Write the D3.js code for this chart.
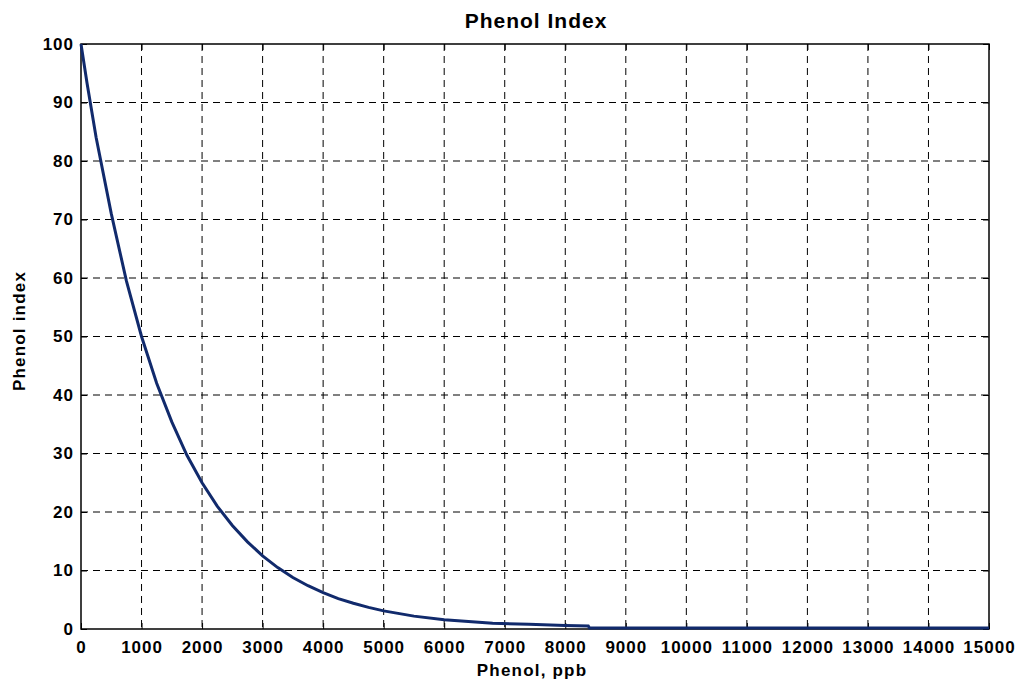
<!DOCTYPE html>
<html><head><meta charset="utf-8">
<script src="https://cdn.jsdelivr.net/npm/d3@7"></script>
<style>body{margin:0;background:#fff;} text{font-family:"Liberation Sans",Arial,sans-serif;font-weight:bold;}</style>
</head><body>
<svg id="c" width="1015" height="682"></svg>
<script>
const phenolPpb = [0,100,250,500,750,1000,1250,1500,1750,2000,2250,2500,2750,3000,3250,3500,3750,4000,4250,4500,4750,5000,5500,6000,6400,6800,7400,8000,8380,8400,9000,10000,11000,12000,13000,14000,15000];
const phenolIndex = [100,93.3,84,71,59.5,50,42,35.4,29.7,25,21,17.7,14.9,12.5,10.5,8.8,7.4,6.2,5.2,4.4,3.7,3.1,2.2,1.6,1.3,1.0,0.8,0.6,0.5,0.15,0.15,0.15,0.15,0.15,0.15,0.15,0.15];
const xTicks = d3.range(0,15001,1000);
const yTicks = d3.range(0,101,10);
const titleText = "Phenol Index", xLabel = "Phenol, ppb", yLabel = "Phenol index";

const svg = d3.select("#c");
const m = {l:81, r:989, t:44, b:629};
const x = d3.scaleLinear().domain([0,15000]).range([m.l,m.r]);
const y = d3.scaleLinear().domain([0,100]).range([m.b,m.t]);

// grid
const g = svg.append("g");
g.selectAll(".vx").data(xTicks.slice(1,-1)).join("line")
  .attr("x1",d=>x(d)).attr("x2",d=>x(d)).attr("y1",m.t).attr("y2",m.b)
  .attr("stroke","#000").attr("stroke-width",1).attr("stroke-dasharray","7,5");
g.selectAll(".hy").data(yTicks.slice(1,-1)).join("line")
  .attr("x1",m.l).attr("x2",m.r).attr("y1",d=>y(d)).attr("y2",d=>y(d))
  .attr("stroke","#000").attr("stroke-width",1).attr("stroke-dasharray","7,5");

// axes
svg.append("g").attr("transform",`translate(0,${m.b})`)
  .call(d3.axisBottom(x).tickValues(xTicks).tickFormat(d3.format("d")).tickSizeInner(-6).tickSizeOuter(0).tickPadding(12));
svg.append("g").attr("transform",`translate(${m.l},0)`)
  .call(d3.axisLeft(y).tickValues(yTicks).tickFormat(d3.format("d")).tickSizeInner(-6).tickSizeOuter(0).tickPadding(7));
svg.append("g").attr("transform",`translate(0,${m.t})`)
  .call(d3.axisTop(x).tickValues(xTicks).tickFormat("").tickSizeInner(-6).tickSizeOuter(0));
svg.append("g").attr("transform",`translate(${m.r},0)`)
  .call(d3.axisRight(y).tickValues(yTicks).tickFormat("").tickSizeInner(-6).tickSizeOuter(0));
svg.selectAll(".domain").remove();
svg.selectAll(".tick line").attr("stroke","#000");
svg.selectAll(".tick text").attr("font-size",17).attr("letter-spacing","1px").attr("fill","#000");

svg.append("rect").attr("x",m.l).attr("y",m.t).attr("width",m.r-m.l).attr("height",m.b-m.t)
  .attr("fill","none").attr("stroke","#000").attr("stroke-width",1.5);

// line
const pts = phenolPpb.map((v,i)=>[v,phenolIndex[i]]);
svg.append("path").datum(pts)
  .attr("d",d3.line().x(d=>x(d[0])).y(d=>y(d[1])))
  .attr("fill","none").attr("stroke","#112a6c").attr("stroke-width",3);

svg.append("text").attr("x",(m.l+m.r)/2+1).attr("y",28).attr("text-anchor","middle").attr("font-size",21).attr("letter-spacing","1px").text(titleText);
svg.append("text").attr("x",(m.l+m.r)/2-3).attr("y",676).attr("text-anchor","middle").attr("font-size",17).attr("letter-spacing","1.2px").text(xLabel);
svg.append("text").attr("transform",`translate(25,331) rotate(-90)`).attr("text-anchor","middle").attr("font-size",17).attr("letter-spacing","1.2px").text(yLabel);
</script>
</body></html>
